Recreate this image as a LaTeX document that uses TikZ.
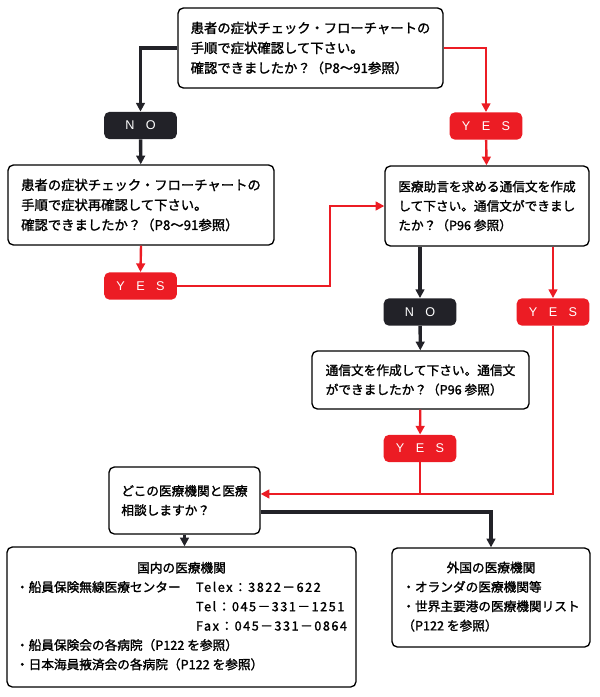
\documentclass[tikz,border=0pt]{standalone}
\usepackage{fontspec}
\setmainfont{Noto Sans CJK JP}[FakeBold=1.5]
\newfontfamily\numfont{Noto Sans CJK JP}[FakeBold=1.5, LetterSpace=12]
\newfontfamily\tagfont[LetterSpace=90]{Liberation Sans}
\usetikzlibrary{arrows.meta}
\definecolor{tagred}{RGB}{236,28,36}
\definecolor{tagblack}{RGB}{34,34,40}

\begin{document}
\begin{tikzpicture}[x=0.75pt, y=-0.75pt,
  box/.style={draw, line width=1pt, rounded corners=4pt, fill=white, align=left, inner sep=0pt},
  big/.style={font=\fontsize{10}{15}\selectfont},
  small/.style={font=\fontsize{9.5}{14.5}\selectfont},
  tag/.style={rounded corners=4pt, text=white, font=\tagfont\fontsize{9.5}{9.5}\selectfont,
    minimum width=54.5pt, minimum height=20.5pt, inner sep=0pt},
  yestag/.style={tag, fill=tagred},
  notag/.style={tag, fill=tagblack},
  blackline/.style={line width=2.5pt, draw=tagblack, -{Triangle[length=6.5pt,width=6.5pt]}},
  redline/.style={line width=1.8pt, draw=tagred, -{Triangle[length=6.5pt,width=6.5pt]}}]
  \useasboundingbox (0,0) rectangle (600,697);
  % 質問の箱
  \node[box, big, minimum width=198.75pt, minimum height=60pt] (q1) at (310.5,48)
    {患者の症状チェック・フローチャートの\\手順で症状確認して下さい。\\確認できましたか？（P8～91参照）};
  \node[box, big, minimum width=199.5pt, minimum height=60pt] (q2) at (141,205)
    {患者の症状チェック・フローチャートの\\手順で症状再確認して下さい。\\確認できましたか？（P8～91参照）};
  \node[box, small, minimum width=153pt, minimum height=60pt] (q3) at (487,206)
    {医療助言を求める通信文を作成\\して下さい。通信文ができまし\\たか？（P96 参照）};
  \node[box, small, minimum width=162.75pt, minimum height=43.5pt] (q4) at (420.5,380)
    {通信文を作成して下さい。通信文\\ができましたか？（P96 参照）};
  \node[box, small, minimum width=113.25pt, minimum height=50.25pt] (q5) at (184.5,500.5)
    {どこの医療機関と医療\\相談しますか？};
  \coordinate (q5in) at ([yshift=4.9pt]q5.east);
  \coordinate (q5out) at ([yshift=-8.6pt]q5.east);
  % YES・NO
  \node[notag] (no1) at (140.5,125.5) {NO};
  \node[yestag] (yes1) at (486,126) {YES};
  \node[yestag] (yes2) at (140.5,286) {YES};
  \node[notag] (no2) at (420,312) {NO};
  \node[yestag] (yes3) at (553,312) {YES};
  \node[yestag] (yes4) at (420,448.5) {YES};
  % 医療機関
  \node[box, small, minimum width=261.75pt, minimum height=105pt] (d1) at (181.5,617)
    {\begin{tabular}{@{}p{135pt}@{}l@{}}
      \multicolumn{2}{c}{国内の医療機関}\\
      ・船員保険無線医療センター & {\numfont Telex：3822－622}\\
      & {\numfont Tel：045－331－1251}\\
      & {\numfont Fax：045－331－0864}\\
      \multicolumn{2}{@{}l}{・船員保険会の各病院（P122 を参照）}\\
      \multicolumn{2}{@{}l}{・日本海員掖済会の各病院（P122 を参照）}
    \end{tabular}};
  \node[box, small, minimum width=148.5pt, minimum height=74.25pt] (d2) at (491,597.5)
    {\begin{tabular}{@{}l@{}}
      \multicolumn{1}{c}{外国の医療機関}\\
      ・オランダの医療機関等\\
      ・世界主要港の医療機関リスト\\
      （P122 を参照）
    \end{tabular}};
  % 矢印
  \draw[blackline] (q1.west) -| (no1.north);
  \draw[redline] (q1.east) -| (yes1.north);
  \draw[blackline] (no1) -- (q2);
  \draw[redline] (q2.south) -- (yes2.north);
  \draw[redline] (yes2.east) -- ++(153,0) |- (q3.west);
  \draw[redline] (yes1) -- (q3);
  \draw[blackline] (q3.south -| no2.north) -- (no2.north);
  \draw[redline] (q3.south -| yes3.north) -- (yes3.north);
  \draw[blackline] (no2) -- (q4);
  \draw[redline] (q4) -- (yes4);
  \draw[redline] (yes3.south) |- (q5in);
  \draw[redline, -] (yes4.south) -- (yes4.south |- q5in);
  \draw[blackline] (q5out) -| (d2.north);
  \draw[blackline] (q5.south) -- (q5.south |- d1.north);
\end{tikzpicture}
\end{document}
